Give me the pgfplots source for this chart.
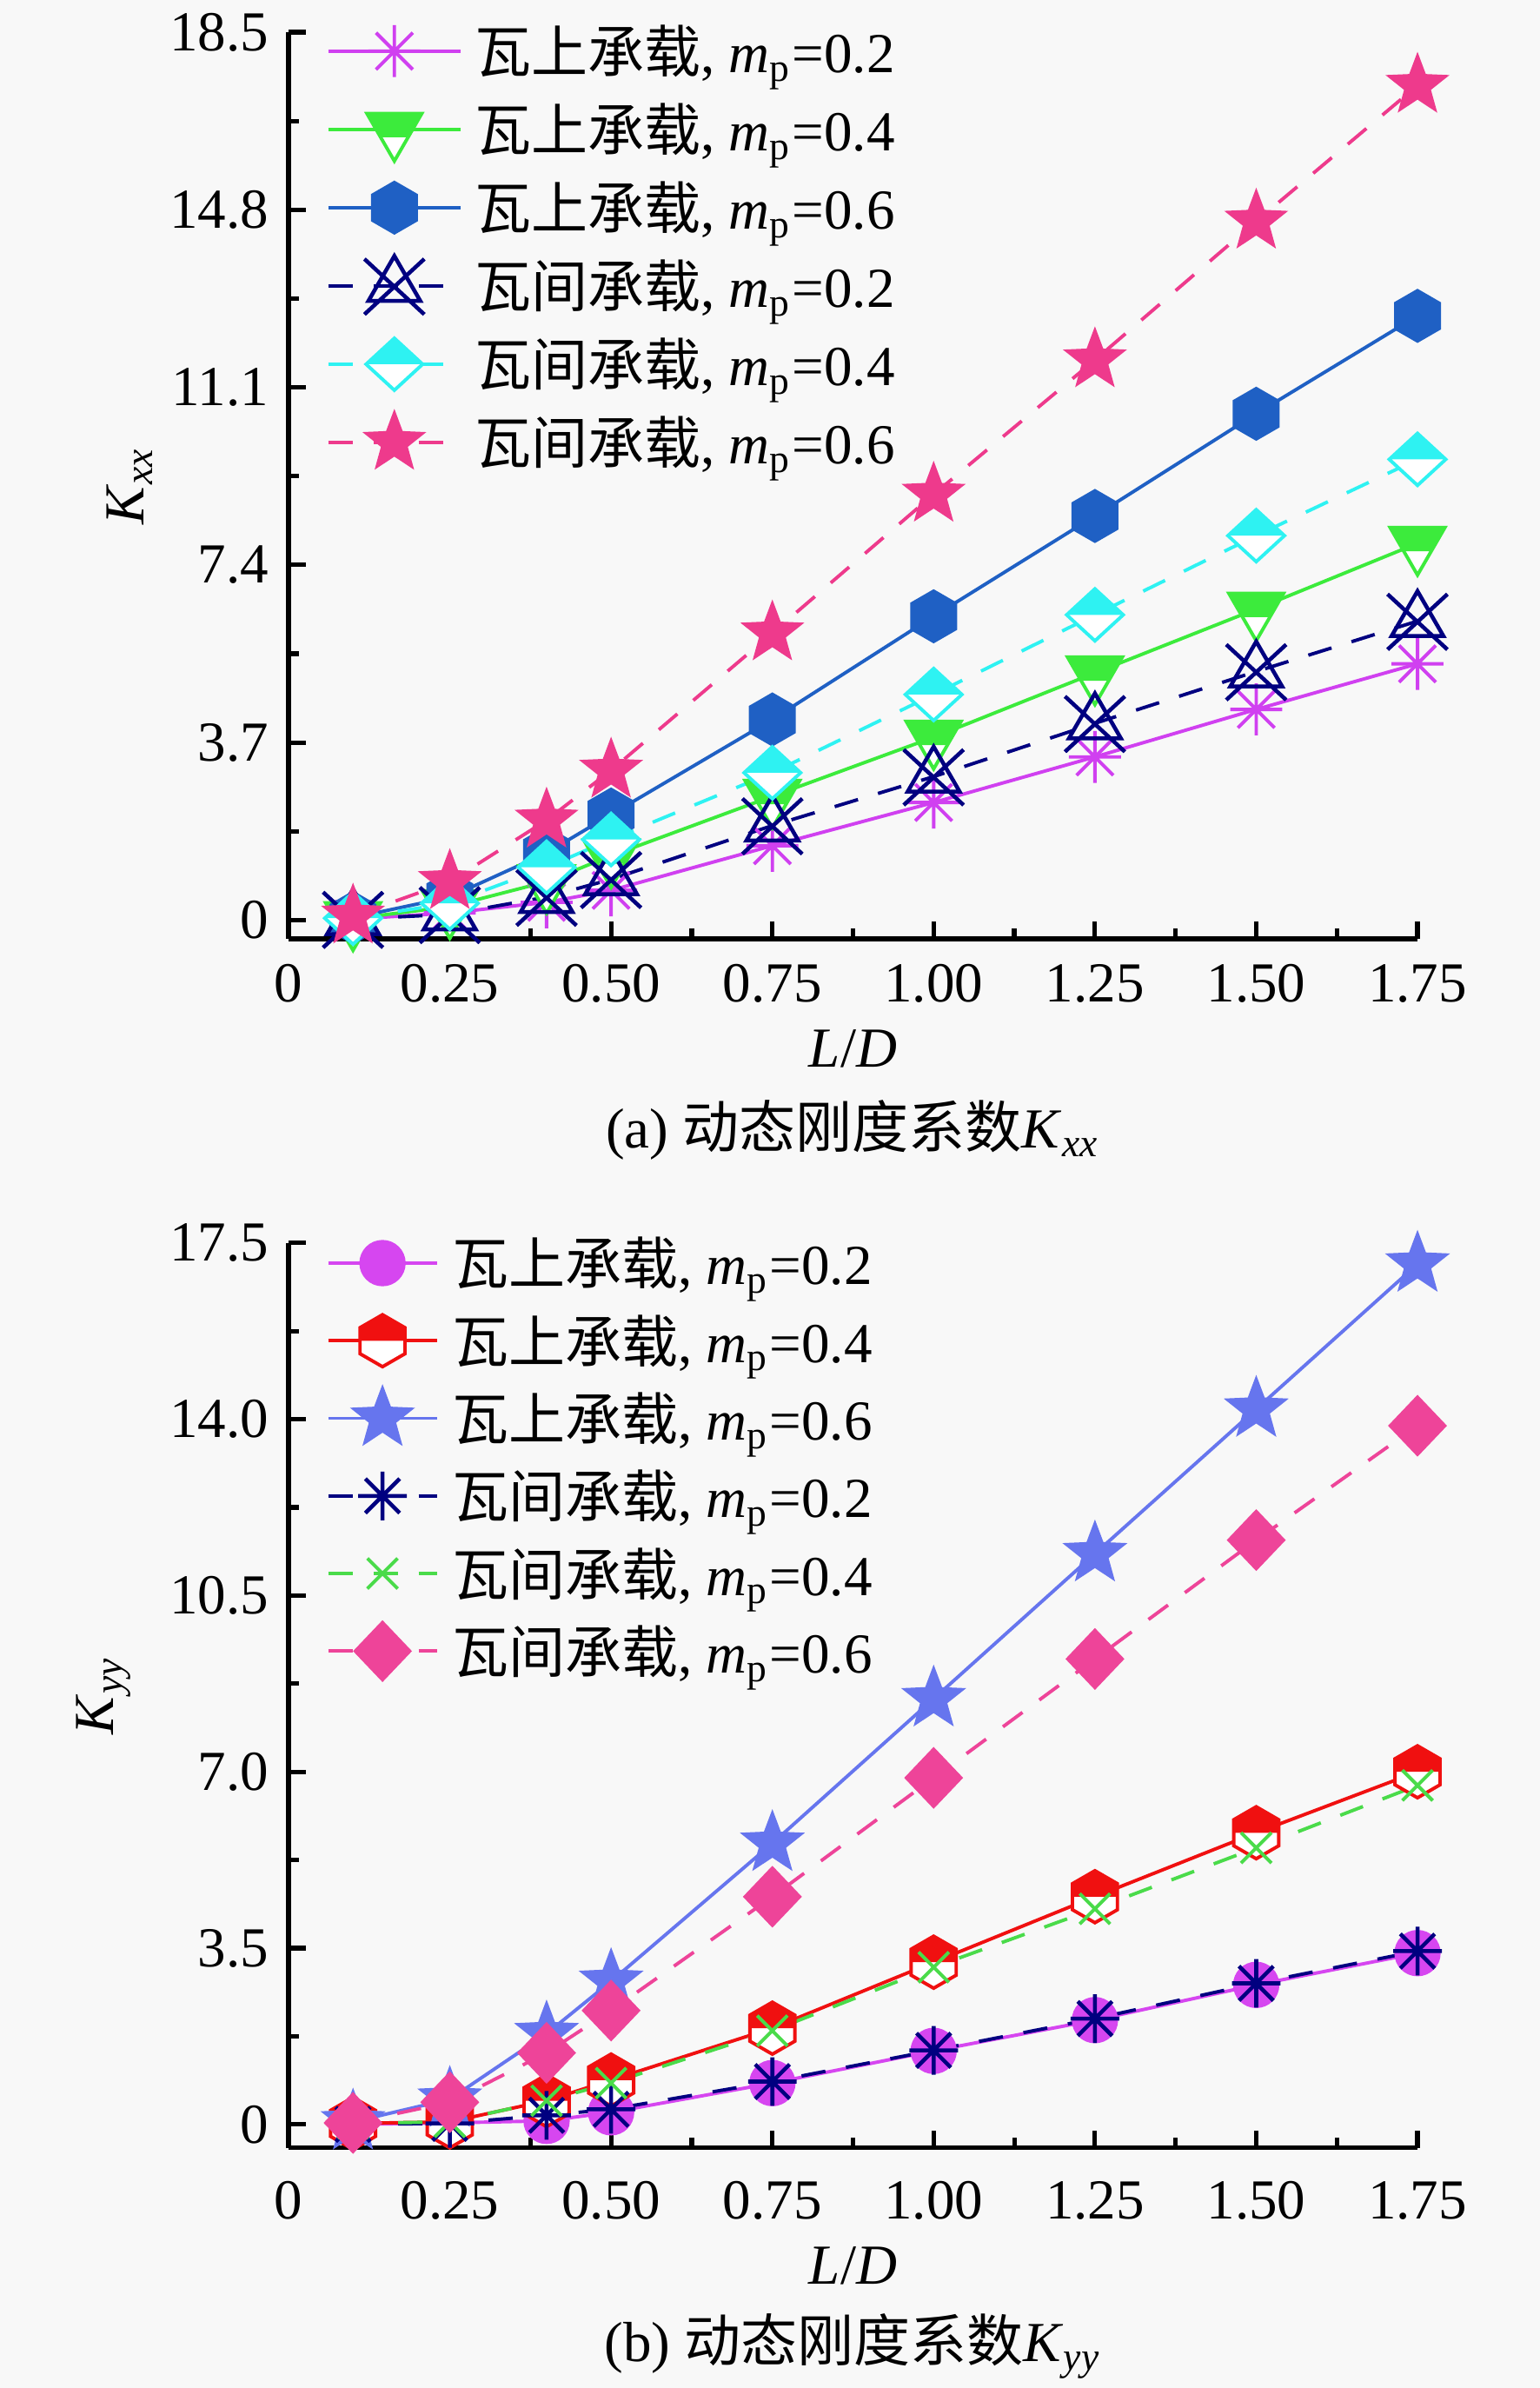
\documentclass[border=0pt]{standalone}
\usepackage{fontspec}
\setmainfont{Liberation Serif}
\newfontfamily\cjk{Noto Sans CJK SC}
\usepackage{pgfplots}
\pgfplotsset{compat=1.18}
\usetikzlibrary{plotmarks}

\definecolor{bgcol}{HTML}{F8F8F8}
\definecolor{amag}{HTML}{D040F0}
\definecolor{agreen}{HTML}{3CEB3C}
\definecolor{ablue}{HTML}{1F60C4}
\definecolor{anavy}{HTML}{000080}
\definecolor{acyan}{HTML}{2EF2F2}
\definecolor{apink}{HTML}{EE3A8C}
\definecolor{bmag}{HTML}{D646F0}
\definecolor{bred}{HTML}{F01010}
\definecolor{bslate}{HTML}{6675EE}
\definecolor{bnavy}{HTML}{000080}
\definecolor{bgreen}{HTML}{4ADB4A}
\definecolor{bpink}{HTML}{EE4499}

% 8-ray asterisk
\pgfdeclareplotmark{ast8}{%
  \pgfpathmoveto{\pgfqpoint{-\pgfplotmarksize}{0pt}}\pgfpathlineto{\pgfqpoint{\pgfplotmarksize}{0pt}}%
  \pgfpathmoveto{\pgfqpoint{0pt}{-\pgfplotmarksize}}\pgfpathlineto{\pgfqpoint{0pt}{\pgfplotmarksize}}%
  \pgfpathmoveto{\pgfqpoint{-0.7071\pgfplotmarksize}{-0.7071\pgfplotmarksize}}\pgfpathlineto{\pgfqpoint{0.7071\pgfplotmarksize}{0.7071\pgfplotmarksize}}%
  \pgfpathmoveto{\pgfqpoint{-0.7071\pgfplotmarksize}{0.7071\pgfplotmarksize}}\pgfpathlineto{\pgfqpoint{0.7071\pgfplotmarksize}{-0.7071\pgfplotmarksize}}%
  \pgfusepathqstroke}
% open triangle with X
\pgfdeclareplotmark{xtri}{%
  \pgfpathmoveto{\pgfqpoint{0pt}{\pgfplotmarksize}}%
  \pgfpathlineto{\pgfqpoint{-0.866\pgfplotmarksize}{-0.5\pgfplotmarksize}}%
  \pgfpathlineto{\pgfqpoint{0.866\pgfplotmarksize}{-0.5\pgfplotmarksize}}%
  \pgfpathclose
  \pgfpathmoveto{\pgfqpoint{-\pgfplotmarksize}{0.9\pgfplotmarksize}}\pgfpathlineto{\pgfqpoint{\pgfplotmarksize}{-0.95\pgfplotmarksize}}%
  \pgfpathmoveto{\pgfqpoint{\pgfplotmarksize}{0.9\pgfplotmarksize}}\pgfpathlineto{\pgfqpoint{-\pgfplotmarksize}{-0.95\pgfplotmarksize}}%
  \pgfusepathqstroke}
% inverted triangle, top half filled
\pgfdeclareplotmark{halftri}{%
  \begin{pgfscope}\pgfsetfillcolor{white}%
  \pgfpathmoveto{\pgfqpoint{-0.866\pgfplotmarksize}{0.5\pgfplotmarksize}}%
  \pgfpathlineto{\pgfqpoint{0.866\pgfplotmarksize}{0.5\pgfplotmarksize}}%
  \pgfpathlineto{\pgfqpoint{0pt}{-\pgfplotmarksize}}\pgfpathclose\pgfusepathqfill
  \end{pgfscope}%
  \pgfpathmoveto{\pgfqpoint{-0.866\pgfplotmarksize}{0.5\pgfplotmarksize}}%
  \pgfpathlineto{\pgfqpoint{0.866\pgfplotmarksize}{0.5\pgfplotmarksize}}%
  \pgfpathlineto{\pgfqpoint{0.433\pgfplotmarksize}{-0.25\pgfplotmarksize}}%
  \pgfpathlineto{\pgfqpoint{-0.433\pgfplotmarksize}{-0.25\pgfplotmarksize}}\pgfpathclose\pgfusepathqfill
  \pgfpathmoveto{\pgfqpoint{-0.866\pgfplotmarksize}{0.5\pgfplotmarksize}}%
  \pgfpathlineto{\pgfqpoint{0.866\pgfplotmarksize}{0.5\pgfplotmarksize}}%
  \pgfpathlineto{\pgfqpoint{0pt}{-\pgfplotmarksize}}\pgfpathclose\pgfusepathqstroke}
% diamond, top half filled
\pgfdeclareplotmark{halfdiam}{%
  \begin{pgfscope}\pgfsetfillcolor{white}%
  \pgfpathmoveto{\pgfqpoint{0pt}{0.92\pgfplotmarksize}}\pgfpathlineto{\pgfqpoint{\pgfplotmarksize}{0pt}}%
  \pgfpathlineto{\pgfqpoint{0pt}{-0.92\pgfplotmarksize}}\pgfpathlineto{\pgfqpoint{-\pgfplotmarksize}{0pt}}\pgfpathclose\pgfusepathqfill
  \end{pgfscope}%
  \pgfpathmoveto{\pgfqpoint{0pt}{0.92\pgfplotmarksize}}\pgfpathlineto{\pgfqpoint{\pgfplotmarksize}{0pt}}%
  \pgfpathlineto{\pgfqpoint{-\pgfplotmarksize}{0pt}}\pgfpathclose\pgfusepathqfill
  \pgfpathmoveto{\pgfqpoint{0pt}{0.92\pgfplotmarksize}}\pgfpathlineto{\pgfqpoint{\pgfplotmarksize}{0pt}}%
  \pgfpathlineto{\pgfqpoint{0pt}{-0.92\pgfplotmarksize}}\pgfpathlineto{\pgfqpoint{-\pgfplotmarksize}{0pt}}\pgfpathclose\pgfusepathqstroke}
% filled diamond
\pgfdeclareplotmark{fdiam}{%
  \pgfpathmoveto{\pgfqpoint{0pt}{1.05\pgfplotmarksize}}\pgfpathlineto{\pgfqpoint{\pgfplotmarksize}{0pt}}%
  \pgfpathlineto{\pgfqpoint{0pt}{-1.05\pgfplotmarksize}}\pgfpathlineto{\pgfqpoint{-\pgfplotmarksize}{0pt}}\pgfpathclose\pgfusepathqfillstroke}
% filled hexagon (pointy top)
\pgfdeclareplotmark{hexf}{%
  \pgfpathmoveto{\pgfqpoint{0pt}{\pgfplotmarksize}}%
  \pgfpathlineto{\pgfqpoint{-0.866\pgfplotmarksize}{0.5\pgfplotmarksize}}%
  \pgfpathlineto{\pgfqpoint{-0.866\pgfplotmarksize}{-0.5\pgfplotmarksize}}%
  \pgfpathlineto{\pgfqpoint{0pt}{-\pgfplotmarksize}}%
  \pgfpathlineto{\pgfqpoint{0.866\pgfplotmarksize}{-0.5\pgfplotmarksize}}%
  \pgfpathlineto{\pgfqpoint{0.866\pgfplotmarksize}{0.5\pgfplotmarksize}}\pgfpathclose\pgfusepathqfillstroke}
% hexagon, top half filled
\pgfdeclareplotmark{halfhex}{%
  \begin{pgfscope}\pgfsetfillcolor{white}%
  \pgfpathmoveto{\pgfqpoint{0pt}{\pgfplotmarksize}}%
  \pgfpathlineto{\pgfqpoint{-0.866\pgfplotmarksize}{0.5\pgfplotmarksize}}%
  \pgfpathlineto{\pgfqpoint{-0.866\pgfplotmarksize}{-0.5\pgfplotmarksize}}%
  \pgfpathlineto{\pgfqpoint{0pt}{-\pgfplotmarksize}}%
  \pgfpathlineto{\pgfqpoint{0.866\pgfplotmarksize}{-0.5\pgfplotmarksize}}%
  \pgfpathlineto{\pgfqpoint{0.866\pgfplotmarksize}{0.5\pgfplotmarksize}}\pgfpathclose\pgfusepathqfill
  \end{pgfscope}%
  \pgfpathmoveto{\pgfqpoint{0pt}{\pgfplotmarksize}}%
  \pgfpathlineto{\pgfqpoint{-0.866\pgfplotmarksize}{0.5\pgfplotmarksize}}%
  \pgfpathlineto{\pgfqpoint{-0.866\pgfplotmarksize}{0pt}}%
  \pgfpathlineto{\pgfqpoint{0.866\pgfplotmarksize}{0pt}}%
  \pgfpathlineto{\pgfqpoint{0.866\pgfplotmarksize}{0.5\pgfplotmarksize}}\pgfpathclose\pgfusepathqfill
  \pgfpathmoveto{\pgfqpoint{0pt}{\pgfplotmarksize}}%
  \pgfpathlineto{\pgfqpoint{-0.866\pgfplotmarksize}{0.5\pgfplotmarksize}}%
  \pgfpathlineto{\pgfqpoint{-0.866\pgfplotmarksize}{-0.5\pgfplotmarksize}}%
  \pgfpathlineto{\pgfqpoint{0pt}{-\pgfplotmarksize}}%
  \pgfpathlineto{\pgfqpoint{0.866\pgfplotmarksize}{-0.5\pgfplotmarksize}}%
  \pgfpathlineto{\pgfqpoint{0.866\pgfplotmarksize}{0.5\pgfplotmarksize}}\pgfpathclose\pgfusepathqstroke}
% filled 5-point star
\pgfdeclareplotmark{fstar}{%
  \pgfpathmoveto{\pgfqpointpolar{90}{\pgfplotmarksize}}%
  \pgfpathlineto{\pgfqpointpolar{126}{0.42\pgfplotmarksize}}%
  \pgfpathlineto{\pgfqpointpolar{162}{\pgfplotmarksize}}%
  \pgfpathlineto{\pgfqpointpolar{198}{0.42\pgfplotmarksize}}%
  \pgfpathlineto{\pgfqpointpolar{234}{\pgfplotmarksize}}%
  \pgfpathlineto{\pgfqpointpolar{270}{0.42\pgfplotmarksize}}%
  \pgfpathlineto{\pgfqpointpolar{306}{\pgfplotmarksize}}%
  \pgfpathlineto{\pgfqpointpolar{342}{0.42\pgfplotmarksize}}%
  \pgfpathlineto{\pgfqpointpolar{18}{\pgfplotmarksize}}%
  \pgfpathlineto{\pgfqpointpolar{54}{0.42\pgfplotmarksize}}\pgfpathclose\pgfusepathqfillstroke}

\pgfplotstableread{
x     s1    s2    s3     s4    s5    s6
0.10  0.02  0.03  0.05   0.02  0.04  0.08
0.25  0.15  0.28  0.48   0.12  0.35  0.80
0.40  0.37  0.80  1.40   0.48  1.10  2.08
0.50  0.62  1.34  2.20   0.85  1.68  3.12
0.75  1.55  2.58  4.18   1.97  3.07  5.98
1.00  2.45  3.81  6.33   2.99  4.70  8.87
1.25  3.40  5.15  8.42   4.10  6.36  11.67
1.50  4.39  6.48  10.55  5.18  8.01  14.56
1.75  5.34  7.85  12.59  6.23  9.60  17.39
}\tabA

\pgfplotstableread{
x     s1    s2    s3     s4    s5    s6
0.10  0.00  0.02  0.05   0.00  0.02  0.03
0.25  0.03  0.05  0.50   0.02  0.05  0.44
0.40  0.07  0.47  1.80   0.18  0.47  1.42
0.50  0.24  0.88  2.84   0.30  0.82  2.26
0.75  0.82  1.91  5.58   0.85  1.86  4.52
1.00  1.46  3.22  8.45   1.47  3.12  6.88
1.25  2.07  4.52  11.33  2.10  4.28  9.24
1.50  2.77  5.79  14.20  2.80  5.49  11.60
1.75  3.40  7.00  17.08  3.44  6.73  13.87
}\tabB

\pgfplotsset{
  common/.style={
    scale only axis, width=199.8pt, anchor=south west,
    xmin=0, xmax=1.75, clip=false,
    axis x line*=bottom, axis y line*=left,
    axis line style={-, line width=0.8pt, black},
    xtick={0,0.25,0.5,0.75,1,1.25,1.5,1.75},
    xticklabels={0,0.25,0.50,0.75,1.00,1.25,1.50,1.75},
    minor tick num=1, tick align=inside,
    major tick length=3.1pt, minor tick length=1.8pt,
    tick style={black, line width=0.8pt},
    ticklabel style={font=\fontsize{10}{12}\selectfont},
    xticklabel style={yshift=-1pt},
    /pgf/number format/assume math mode=true,
    label style={font=\fontsize{10}{12}\selectfont},
    xlabel={\textit{L}/\textit{D}},
    legend cell align=left,
  },
  ln/.style={line width=0.6pt, solid},
  dl/.style={line width=0.6pt, dash pattern=on 4.3pt off 3.7pt},
}
\newcommand{\mpv}[1]{, \textit{m}\textsubscript{p}=#1}

\begin{document}
\begin{tikzpicture}
\fill[bgcol] (0pt,0pt) rectangle (272.5pt,-422.5pt);
\path[use as bounding box] (0pt,0pt) rectangle (272.5pt,-422.5pt);

% ---------- (a) ----------
\begin{axis}[common, at={(51.06pt,-166.1pt)}, height=160.4pt,
  ymin=-0.39, ymax=18.5,
  ytick={0,3.7,7.4,11.1,14.8,18.5},
  yticklabels={0,3.7,7.4,11.1,14.8,18.5},
  ylabel={\textit{K}\textsubscript{\textit{xx}}},
  xlabel style={at={(axis description cs:0.5,-0.121)}, anchor=center},
  ylabel style={at={(axis description cs:-0.1407,0.5)}, anchor=center},
  legend image code/.code={\draw[mark repeat=2,mark phase=2,#1] plot coordinates {(0pt,0pt) (11.7pt,0pt) (23.4pt,0pt)};},
  legend style={draw=none, fill=none, at={(axis description cs:0.0327,1.0236)}, anchor=north west,
    inner sep=0pt, row sep=0pt, column sep=0pt,
    nodes={inner xsep=2.2pt, inner ysep=0pt, text height=10.7pt, text depth=3.15pt, font=\fontsize{10}{12}\selectfont}},
]
\addplot[ln, color=amag, mark=ast8, mark size=4.6pt, mark options={solid, line width=0.6pt}] table[x=x,y=s1] {\tabA};
\addlegendentry{{\cjk 瓦上承载}\mpv{0.2}}
\addplot[ln, color=agreen, mark=halftri, mark size=5.6pt, mark options={solid, fill=agreen}] table[x=x,y=s2] {\tabA};
\addlegendentry{{\cjk 瓦上承载}\mpv{0.4}}
\addplot[ln, color=ablue, mark=hexf, mark size=4.45pt, mark options={solid, fill=ablue}] table[x=x,y=s3] {\tabA};
\addlegendentry{{\cjk 瓦上承载}\mpv{0.6}}
\addplot[dl, color=anavy, mark=xtri, mark size=5.3pt, mark options={solid, line width=0.7pt}] table[x=x,y=s4] {\tabA};
\addlegendentry{{\cjk 瓦间承载}\mpv{0.2}}
\addplot[dl, color=acyan, mark=halfdiam, mark size=5pt, mark options={solid, fill=acyan}] table[x=x,y=s5] {\tabA};
\addlegendentry{{\cjk 瓦间承载}\mpv{0.4}}
\addplot[dl, color=apink, mark=fstar, mark size=5.1pt, mark options={solid, fill=apink}] table[x=x,y=s6] {\tabA};
\addlegendentry{{\cjk 瓦间承载}\mpv{0.6}}
\node[font=\fontsize{10}{12}\selectfont] at (axis description cs:0.5,-0.211) {(a) {\cjk 动态刚度系数}\textit{K}\textsubscript{\textit{xx}}};
\end{axis}

% ---------- (b) ----------
\begin{axis}[common, at={(51.06pt,-380.0pt)}, height=160.1pt,
  ymin=-0.465, ymax=17.5,
  ytick={0,3.5,7,10.5,14,17.5},
  yticklabels={0,3.5,7.0,10.5,14.0,17.5},
  ylabel={\textit{K}\textsubscript{\textit{yy}}},
  xticklabel style={yshift=-1.4pt},
  xlabel style={at={(axis description cs:0.5,-0.130)}, anchor=center},
  ylabel style={at={(axis description cs:-0.164,0.5)}, anchor=center},
  legend image code/.code={\draw[mark repeat=2,mark phase=2,#1] plot coordinates {(0pt,0pt) (9.6pt,0pt) (19.2pt,0pt)};},
  legend style={draw=none, fill=none, at={(axis description cs:0.0327,1.0218)}, anchor=north west,
    inner sep=0pt, row sep=0pt, column sep=0pt,
    nodes={inner xsep=2.4pt, inner ysep=0pt, text height=10.7pt, text depth=3.03pt, font=\fontsize{10}{12}\selectfont}},
]
\addplot[ln, color=bmag, mark=*, mark size=3.8pt, mark options={solid, fill=bmag}] table[x=x,y=s1] {\tabB};
\addlegendentry{{\cjk 瓦上承载}\mpv{0.2}}
\addplot[ln, color=bred, mark=halfhex, mark size=4.6pt, mark options={solid, fill=bred}] table[x=x,y=s2] {\tabB};
\addlegendentry{{\cjk 瓦上承载}\mpv{0.4}}
\addplot[ln, color=bslate, mark=fstar, mark size=5.2pt, mark options={solid, fill=bslate}] table[x=x,y=s3] {\tabB};
\addlegendentry{{\cjk 瓦上承载}\mpv{0.6}}
\addplot[dl, color=bnavy, mark=ast8, mark size=4.3pt, mark options={solid, line width=0.7pt}] table[x=x,y=s4] {\tabB};
\addlegendentry{{\cjk 瓦间承载}\mpv{0.2}}
\addplot[dl, color=bgreen, mark=x, mark size=3.8pt, mark options={solid, line width=0.6pt}] table[x=x,y=s5] {\tabB};
\addlegendentry{{\cjk 瓦间承载}\mpv{0.4}}
\addplot[dl, color=bpink, mark=fdiam, mark size=4.8pt, mark options={solid, fill=bpink}] table[x=x,y=s6] {\tabB};
\addlegendentry{{\cjk 瓦间承载}\mpv{0.6}}
\node[font=\fontsize{10}{12}\selectfont] at (axis description cs:0.5,-0.219) {(b) {\cjk 动态刚度系数}\textit{K}\textsubscript{\textit{yy}}};
\end{axis}
\end{tikzpicture}
\end{document}
